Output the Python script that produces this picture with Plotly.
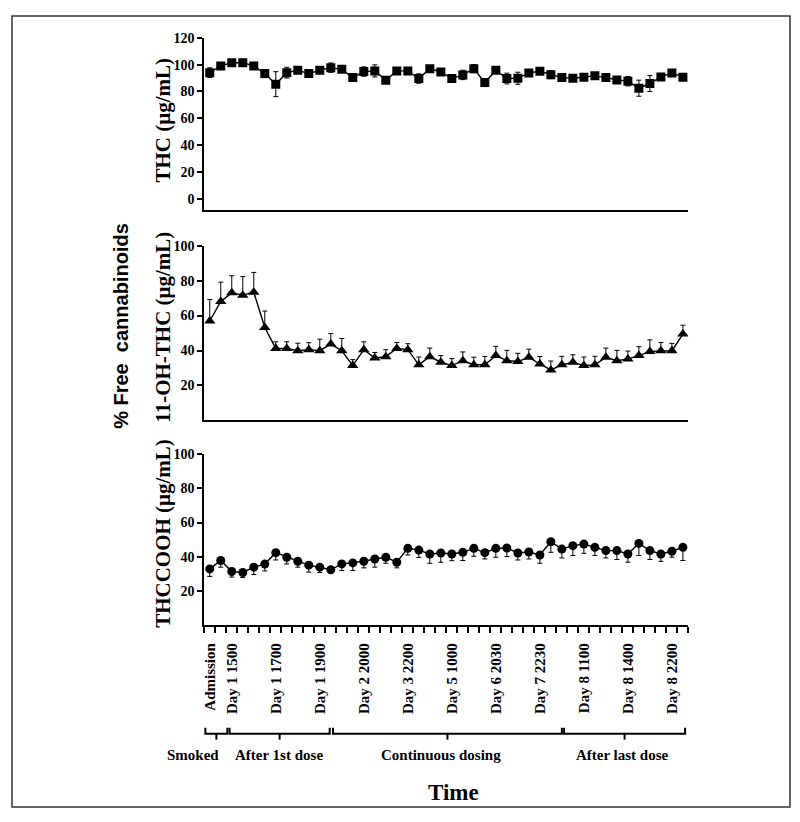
import plotly.graph_objects as go

# ---------------- data ----------------
n_points = 44
time_labels = ["Admission", "Day 1 1500", "Day 1 1700", "Day 1 1900", "Day 2 2000",
               "Day 3 2200", "Day 5 1000", "Day 6 2030", "Day 7 2230", "Day 8 1100",
               "Day 8 1400", "Day 8 2200"]
label_positions = [0, 2, 6, 10, 14, 18, 22, 26, 30, 34, 38, 42]

thc = [94.0, 99.0, 101.4, 101.4, 99.0, 93.3, 85.4, 94.0, 95.8, 93.3,
       95.8, 97.7, 96.5, 90.3, 94.8, 95.3, 88.4, 95.3, 95.3, 89.6,
       97.0, 94.5, 89.6, 92.3, 97.0, 86.6, 95.8, 89.6, 89.8, 93.8,
       95.0, 92.5, 90.3, 89.8, 90.6, 91.6, 90.3, 88.6, 87.6, 82.4,
       85.9, 90.8, 93.8, 90.6]
thc_err = [3.6, 2, 2, 2.5, 1.5, 3, 9.3, 4, 2, 2.5,
           2, 3.5, 1, 1, 3.5, 4.5, 1.5, 1, 1, 3.5,
           1, 1.5, 3, 3.5, 3, 3, 1, 4, 4.5, 1,
           1, 3, 1.5, 1, 1, 1, 1.5, 1, 3.5, 6,
           6, 2.5, 1, 1]

oh_thc = [56.9, 68.1, 73.0, 71.7, 73.4, 53.2, 41.2, 41.2, 39.9, 40.5,
          39.9, 43.7, 39.9, 31.4, 40.5, 35.7, 36.5, 41.2, 40.5, 31.8,
          36.5, 33.3, 31.4, 34.2, 31.9, 31.9, 37.1, 34.2, 33.7, 36.1,
          32.3, 28.9, 31.8, 33.3, 31.4, 31.8, 36.1, 34.2, 35.2, 37.1,
          39.5, 39.9, 39.9, 49.4]
oh_thc_err = [12.3, 11, 9.8, 10.6, 11.3, 9.4, 3.8, 3.8, 4.3, 4,
              6.6, 6, 7, 3.4, 4.5, 3.2, 4, 3.4, 3.4, 4.5,
              4.9, 3.8, 4, 5, 4.3, 4.7, 5.3, 5.9, 4.7, 4.7,
              4.3, 5.1, 4.9, 4.3, 4.9, 4.9, 5.3, 5.9, 4.5, 5.1,
              6.6, 4.7, 4.2, 5.1]

thccooh = [32.9, 37.8, 31.4, 30.8, 33.9, 35.7, 42.4, 39.7, 37.4, 35.1,
           33.9, 32.4, 35.8, 36.4, 37.4, 38.7, 39.7, 36.8, 44.9, 43.9,
           41.6, 42.2, 41.6, 42.6, 44.9, 42.4, 44.9, 45.1, 42.2, 42.8,
           41.0, 48.8, 44.5, 46.5, 47.4, 45.5, 43.6, 43.6, 41.6, 47.8,
           43.6, 41.6, 43.2, 45.5]
thccooh_err = [4.4, 3.9, 3.3, 2.9, 4.3, 4, 4.3, 3.9, 3.5, 4.1,
               3.1, 1.5, 3.9, 4.4, 3.9, 4.8, 3.5, 3.3, 3.9, 4.3,
               5.4, 5.4, 3.9, 4.8, 4.6, 3.7, 5.2, 5, 4.1, 4.1,
               4.8, 6.2, 5.2, 5.8, 5.4, 4.8, 4.3, 5.2, 4.8, 7.1,
               5.2, 4.3, 3.5, 7.7]

phases = ["Smoked", "After 1st dose", "Continuous dosing", "After last dose"]
phase_start = [-0.4, 1.8, 11.2, 32.2]
phase_end = [1.6, 10.9, 32.0, 43.2]
phase_label_pos = [-1.5, 6.3, 21.0, 37.5]

# ---------------- layout helpers ----------------
# the page body has an 8px margin, so the figure is 16px smaller than the window
PAGE_W, PAGE_H = 800, 822
OFF = 8
W, H = PAGE_W - 2 * OFF, PAGE_H - 2 * OFF

def fx(p):
    return (p - OFF) / W

def fy(p):
    return 1 - (p - OFF) / H

X_LEFT, X_RIGHT = 202, 688
X_MIN, X_MAX = -0.5, n_points - 0.5

def cat_to_paper(v):
    return fx(X_LEFT + (v - X_MIN) / (X_MAX - X_MIN) * (X_RIGHT - X_LEFT))

x = list(range(n_points))
zeros = [0] * n_points

SERIF = "Liberation Serif"
BLACK = "black"

fig = go.Figure()

def add_series(y, err_plus, err_minus, symbol, size, xa, ya):
    fig.add_trace(go.Scatter(
        x=x, y=y, mode="lines+markers", xaxis=xa, yaxis=ya,
        line=dict(color=BLACK, width=1.4),
        marker=dict(symbol=symbol, size=size, color=BLACK),
        error_y=dict(type="data", symmetric=False, array=err_plus,
                     arrayminus=err_minus, color=BLACK, thickness=1, width=2.5),
        showlegend=False, hoverinfo="skip"))

add_series(thc, thc_err, thc_err, "square", 9, "x3", "y3")
add_series(oh_thc, oh_thc_err, zeros, "triangle-up", 10, "x2", "y2")
add_series(thccooh, zeros, thccooh_err, "circle", 9, "x", "y")

xdom = [fx(X_LEFT), fx(X_RIGHT)]
yaxis_common = dict(showline=True, linewidth=2, linecolor=BLACK, showgrid=False,
                    zeroline=False, ticks="outside", ticklen=5, tickwidth=1.5,
                    tickcolor=BLACK,
                    tickfont=dict(family=SERIF, size=14, color=BLACK, weight="bold"))
xaxis_common = dict(range=[X_MIN, X_MAX], showline=True, linewidth=2,
                    linecolor=BLACK, showgrid=False, zeroline=False, domain=xdom)

fig.update_layout(
    width=W, height=H, margin=dict(l=0, r=0, t=0, b=0),
    paper_bgcolor="white", plot_bgcolor="white",
    xaxis=dict(**xaxis_common, anchor="y",
               tickmode="array", tickvals=label_positions, ticktext=time_labels,
               ticks="", tickangle=-90, ticklabelstandoff=10,
               tickfont=dict(family=SERIF, size=15, color=BLACK, weight="bold"),
               minor=dict(tickmode="array",
                          tickvals=[i - 0.5 for i in range(n_points + 1)],
                          ticks="outside", ticklen=6, tickwidth=1.5, tickcolor=BLACK)),
    xaxis2=dict(**xaxis_common, anchor="y2", showticklabels=False, ticks=""),
    xaxis3=dict(**xaxis_common, anchor="y3", showticklabels=False, ticks=""),
    yaxis=dict(**yaxis_common, anchor="x", domain=[fy(623.5), fy(451)],
               range=[0, 100], tickvals=[20, 40, 60, 80, 100]),
    yaxis2=dict(**yaxis_common, anchor="x2", domain=[fy(417), fy(240.7)],
                range=[0, 100], tickvals=[20, 40, 60, 80, 100]),
    yaxis3=dict(**yaxis_common, anchor="x3", domain=[fy(205), fy(31)],
                range=[-8.7, 120], tickvals=[0, 20, 40, 60, 80, 100, 120]),
)

annotations = []
def vtitle(text, xc, yc, family, size):
    annotations.append(dict(text=text, x=fx(xc), y=fy(yc), xref="paper", yref="paper",
                            textangle=-90, showarrow=False, xanchor="center",
                            yanchor="middle",
                            font=dict(family=family, size=size, color=BLACK,
                                      weight="bold")))

vtitle("THC (μg/mL)", 161, 114, SERIF, 21)
vtitle("11-OH-THC (μg/mL)", 161, 323, SERIF, 21)
vtitle("THCCOOH (μg/mL)", 161, 531, SERIF, 21)
vtitle("% Free  cannabinoids", 119, 322, "Liberation Sans", 20)

annotations.append(dict(text="Time", x=fx(452), y=fy(792), xref="paper", yref="paper",
                        showarrow=False, xanchor="center", yanchor="middle",
                        font=dict(family=SERIF, size=23, color=BLACK, weight="bold")))

shapes = []
y_line = fy(733)
y_cap = fy(727)
y_tick = fy(739)
for name, s, e, lp in zip(phases, phase_start, phase_end, phase_label_pos):
    c = (s + e) / 2
    xs, xe, xc = cat_to_paper(s), cat_to_paper(e), cat_to_paper(c)
    shapes.append(dict(type="path", xref="paper", yref="paper",
                       path=f"M {xs},{y_cap} L {xs},{y_line} L {xe},{y_line} L {xe},{y_cap}",
                       line=dict(color=BLACK, width=2)))
    shapes.append(dict(type="line", xref="paper", yref="paper", x0=xc, x1=xc,
                       y0=y_line, y1=y_tick, line=dict(color=BLACK, width=2)))
    annotations.append(dict(text=name, x=cat_to_paper(lp), y=fy(754), xref="paper",
                            yref="paper", showarrow=False, xanchor="center",
                            yanchor="middle",
                            font=dict(family=SERIF, size=15, color=BLACK,
                                      weight="bold")))

# outer frame
shapes.append(dict(type="rect", xref="paper", yref="paper",
                   x0=fx(9), x1=fx(790), y0=fy(807), y1=fy(9),
                   line=dict(color="#333333", width=1.5)))

fig.update_layout(annotations=annotations, shapes=shapes)

fig.write_html("out.html", config={"displayModeBar": False})
